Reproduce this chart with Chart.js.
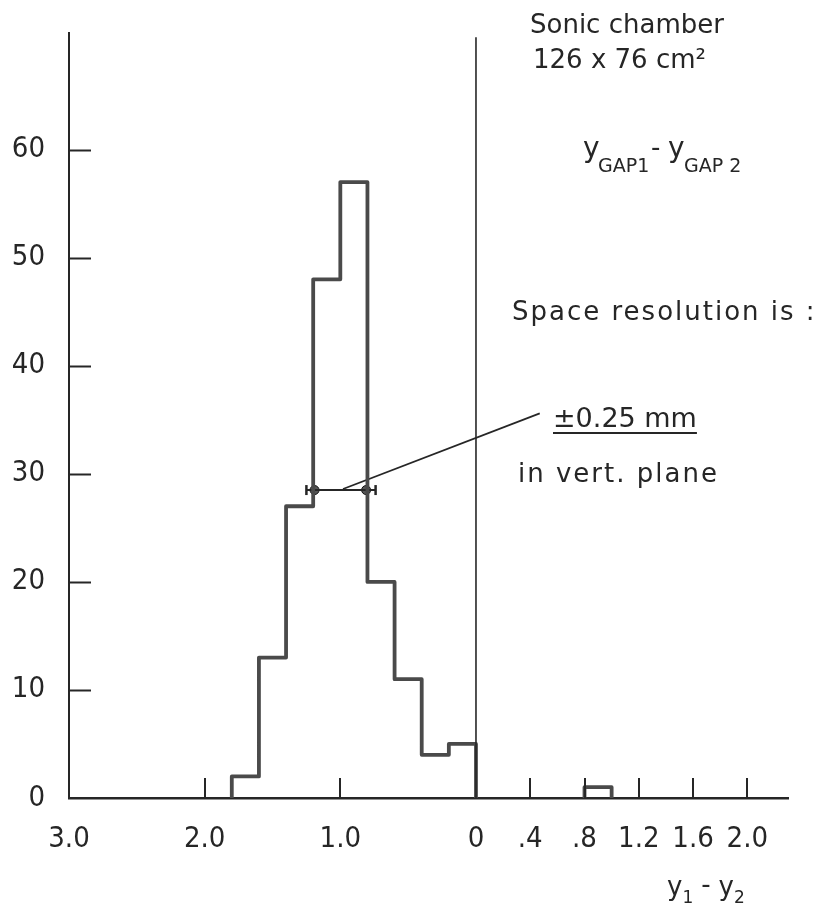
<!DOCTYPE html>
<html>
<head>
<meta charset="utf-8">
<script src="https://cdn.jsdelivr.net/npm/chart.js@4.4.1/dist/chart.umd.min.js"></script>
<style>
  html, body { margin: 0; padding: 0; background: #fff; }
  canvas { display: block; }
</style>
</head>
<body>
<canvas id="c" width="821" height="912"></canvas>
<script>
// Histogram of y1 - y2 (mm), 0.2 mm bins
const binStarts = [-1.8, -1.6, -1.4, -1.2, -1.0, -0.8, -0.6, -0.4, -0.2];
const binCounts = [2, 13, 27, 48, 57, 20, 11, 4, 5];
const sideBinStarts = [0.8];
const sideBinCounts = [1];
const binWidth = 0.2;

// resolution bar at half maximum
const errorBarEnds = [-1.25, -0.74];
const halfMaxDots = [-1.19, -0.81];
const halfMax = 28.5;

// leader line from the bar to the resolution note
const leaderFrom = [-0.98, 28.6];
const leaderTo = [0.47, 35.6];

// axis ticks
const xTickValues = [-3.0, -2.0, -1.0, 0, 0.4, 0.8, 1.2, 1.6, 2.0];
const xTickLabels = ['3.0', '2.0', '1.0', '0', '.4', '.8', '1.2', '1.6', '2.0'];
const yTickValues = [0, 10, 20, 30, 40, 50, 60];
const yTickLabels = ['0', '10', '20', '30', '40', '50', '60'];

const INK = '#262626';
const FONT = "'DejaVu Sans', 'Liberation Sans', sans-serif";
const TICK_FONT = "'DejaVu Sans Condensed', 'Liberation Sans Narrow', 'DejaVu Sans', sans-serif";

function outline(starts, counts, w) {
  const pts = [{x: starts[0], y: 0}];
  starts.forEach((s, i) => pts.push({x: s, y: counts[i]}));
  const end = starts[starts.length - 1] + w;
  pts.push({x: end, y: counts[counts.length - 1]});
  pts.push({x: end, y: 0});
  return pts;
}

const inwardTicks = {
  id: 'inwardTicks',
  afterDatasetsDraw(chart) {
    const {ctx, chartArea, scales: {x, y}} = chart;
    ctx.save();
    ctx.strokeStyle = INK;
    ctx.lineWidth = 2;
    ctx.lineCap = 'butt';
    yTickValues.forEach(v => {
      if (v === 0) return;
      const py = Math.round(y.getPixelForValue(v)) + 0.5;
      ctx.beginPath();
      ctx.moveTo(chartArea.left, py);
      ctx.lineTo(chartArea.left + 22, py);
      ctx.stroke();
    });
    xTickValues.forEach(v => {
      if (v === -3 || v === 0) return;
      const px = Math.round(x.getPixelForValue(v));
      ctx.beginPath();
      ctx.moveTo(px, chartArea.bottom);
      ctx.lineTo(px, chartArea.bottom - 20);
      ctx.stroke();
    });
    ctx.restore();
  }
};

const notes = {
  id: 'notes',
  afterDraw(chart) {
    const {ctx} = chart;
    ctx.save();
    ctx.fillStyle = INK;
    ctx.textBaseline = 'alphabetic';
    ctx.textAlign = 'left';

    ctx.font = `26px ${FONT}`;
    ctx.fillText('Sonic chamber', 530, 33);
    ctx.fillText('126 x 76 cm²', 533, 68);

    // y_GAP1 - y_GAP2
    ctx.font = `28px ${FONT}`;
    ctx.fillText('y', 583, 157);
    ctx.font = `19px ${FONT}`;
    ctx.fillText('GAP1', 598, 172);
    ctx.font = `26px ${FONT}`;
    ctx.fillText('-', 651, 156);
    ctx.font = `28px ${FONT}`;
    ctx.fillText('y', 668, 157);
    ctx.font = `19px ${FONT}`;
    ctx.fillText('GAP 2', 684, 172);

    ctx.font = `26px ${FONT}`;
    ctx.letterSpacing = '2px';
    ctx.fillText('Space resolution is :', 512, 320);
    ctx.fillText('in vert. plane', 518, 482);
    ctx.letterSpacing = '0px';

    ctx.font = `27px ${FONT}`;
    ctx.fillText('±0.25 mm', 553, 427);
    const w = ctx.measureText('±0.25 mm').width;
    ctx.strokeStyle = INK;
    ctx.lineWidth = 2;
    ctx.beginPath();
    ctx.moveTo(553, 433);
    ctx.lineTo(553 + w, 433);
    ctx.stroke();

    // axis name y1 - y2
    let px = 667;
    ctx.font = `26px ${FONT}`;
    ctx.fillText('y', px, 895); px += ctx.measureText('y').width;
    ctx.font = `17px ${FONT}`;
    ctx.fillText('1', px, 903); px += ctx.measureText('1').width + 8;
    ctx.font = `26px ${FONT}`;
    ctx.fillText('-', px, 893); px += ctx.measureText('-').width + 8;
    ctx.fillText('y', px, 895); px += ctx.measureText('y').width;
    ctx.font = `17px ${FONT}`;
    ctx.fillText('2', px, 903);
    ctx.restore();
  }
};

new Chart(document.getElementById('c'), {
  type: 'line',
  data: {
    datasets: [
      {
        data: [{x: 0, y: 0}, {x: 0, y: 70.4}],
        borderColor: INK, borderWidth: 1.6, pointRadius: 0
      },
      {
        data: outline(binStarts, binCounts, binWidth),
        stepped: 'before',
        borderColor: '#4a4a4a', borderWidth: 3.8, borderJoinStyle: 'round',
        pointRadius: 0, fill: false
      },
      {
        data: outline(sideBinStarts, sideBinCounts, binWidth),
        stepped: 'before',
        borderColor: '#4a4a4a', borderWidth: 3.8, borderJoinStyle: 'round',
        pointRadius: 0, fill: false
      },
      {
        data: [{x: leaderFrom[0], y: leaderFrom[1]}, {x: leaderTo[0], y: leaderTo[1]}],
        borderColor: INK, borderWidth: 1.8, pointRadius: 0
      },
      {
        data: errorBarEnds.map(v => ({x: v, y: halfMax})),
        borderColor: INK, borderWidth: 2,
        pointStyle: 'line', pointRotation: 90, pointRadius: 5,
        pointBorderWidth: 2.5, pointBorderColor: INK
      },
      {
        data: halfMaxDots.map(v => ({x: v, y: halfMax})),
        showLine: false,
        pointStyle: 'circle', pointRadius: 4.5,
        pointBackgroundColor: '#555', pointBorderColor: '#111', pointBorderWidth: 1
      }
    ]
  },
  options: {
    responsive: false,
    animation: false,
    events: [],
    layout: {padding: {top: 33, right: 33, left: 0, bottom: 0}},
    plugins: {legend: {display: false}, tooltip: {enabled: false}},
    scales: {
      x: {
        type: 'linear', position: 'bottom', min: -3.0, max: 2.3,
        grid: {display: false, drawTicks: false},
        border: {display: true, color: INK, width: 2.5},
        afterBuildTicks: s => { s.ticks = xTickValues.map(v => ({value: v})); },
        afterFit: s => { s.height = 114; s.paddingLeft = 0; s.paddingRight = 0; },
        ticks: {
          autoSkip: false, maxRotation: 0, padding: 24, color: INK,
          font: {family: TICK_FONT, size: 29},
          callback: (v, i) => xTickLabels[i]
        }
      },
      y: {
        type: 'linear', position: 'left', min: 0, max: 70.8,
        grid: {display: false, drawTicks: false},
        border: {display: true, color: INK, width: 2},
        afterBuildTicks: s => { s.ticks = yTickValues.map(v => ({value: v})); },
        afterFit: s => { s.width = 69; s.paddingTop = 0; s.paddingBottom = 0; },
        ticks: {
          padding: 24, color: INK,
          font: {family: TICK_FONT, size: 29},
          callback: (v, i) => yTickLabels[i]
        }
      }
    }
  },
  plugins: [inwardTicks, notes]
});
</script>
</body>
</html>
